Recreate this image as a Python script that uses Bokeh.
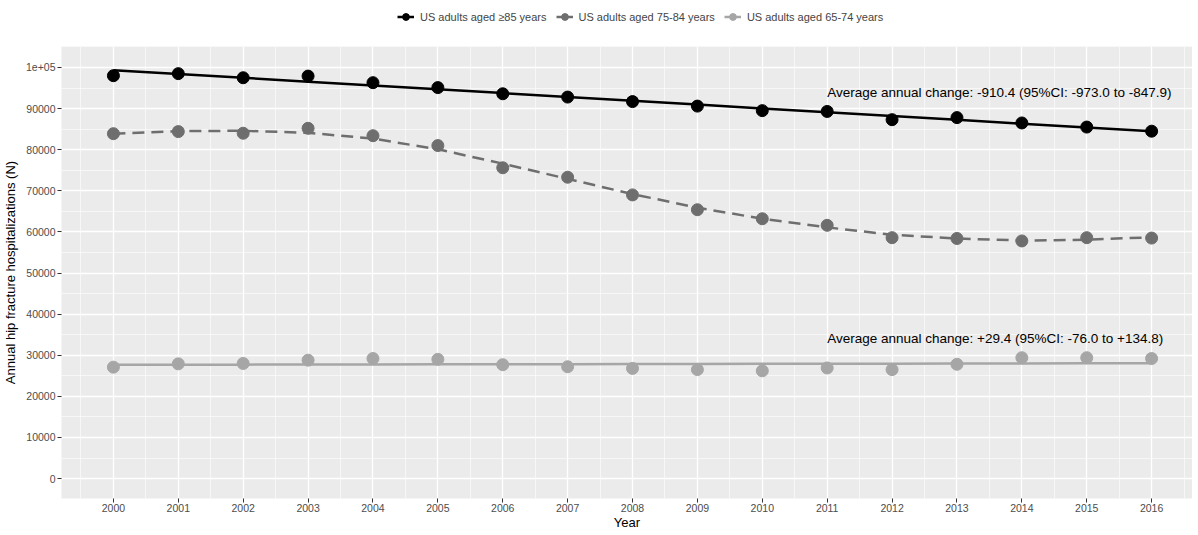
import numpy as np
from bokeh.plotting import figure
from bokeh.layouts import column
from bokeh.models import (ColumnDataSource, Legend, LegendItem, FixedTicker, Range1d)
from bokeh.core.properties import value
from bokeh.embed import file_html
from bokeh.resources import INLINE

# ---------------- data ----------------
years = list(range(2000, 2017))
labels = ["US adults aged \u226585 years", "US adults aged 75-84 years", "US adults aged 65-74 years"]

age_85_plus = [98000, 98500, 97500, 97900, 96300, 95100, 93600, 92800, 91700,
               90600, 89500, 89300, 87300, 87800, 86500, 85500, 84500]
age_75_84 = [83900, 84400, 84000, 85200, 83400, 81000, 75600, 73300, 69000,
             65400, 63200, 61600, 58600, 58400, 57800, 58600, 58500]
age_65_74 = [27100, 27900, 28000, 28800, 29200, 29000, 27700, 27200, 26800,
             26500, 26200, 26900, 26500, 27800, 29400, 29400, 29200]
# smoothed (loess) curve of the 75-84 group, read at each year
smooth_75_84 = [83900, 84500, 84600, 84100, 82700, 80100, 76600, 72900, 69200,
                65900, 63200, 61100, 59300, 58400, 57900, 58100, 58700]

annot_texts = ["Average annual change: -910.4 (95%CI: -973.0 to -847.9)",
               "Average annual change: +29.4 (95%CI: -76.0 to +134.8)"]
annot_x = [2011, 2011]
annot_y = [93800, 34000]

y_ticks = list(range(0, 100001, 10000))
y_tick_labels = {t: ("1e+05" if t == 100000 else str(t)) for t in y_ticks}

colors = ["#000000", "#6E6E6E", "#A6A6A6"]
FONT = "Liberation Sans"

# linear fits (as in the original, lm)
yr = np.array(years, dtype=float)
fit85 = np.polyval(np.polyfit(yr, age_85_plus, 1), yr)
fit65 = np.polyval(np.polyfit(yr, age_65_74, 1), yr)

# ---------------- legend strip ----------------
lg = figure(width=1190, height=36, output_backend="svg", toolbar_location=None,
            x_range=Range1d(0, 1), y_range=Range1d(0, 1),
            x_axis_location=None, y_axis_location=None, min_border=0)
lg.outline_line_color = None
lg.grid.visible = False
lg.background_fill_color = "white"
lg.border_fill_color = "white"
items = []
for lab, c in zip(labels, colors):
    # off-range placeholder data: only the legend keys are visible
    hidden = ColumnDataSource(dict(x=[-10, -9], y=[-10, -10]))
    r1 = lg.line("x", "y", source=hidden, line_width=2.5, color=c)
    r2 = lg.scatter("x", "y", source=hidden, size=12, color=c)
    items.append(LegendItem(label=lab, renderers=[r1, r2]))
legend = Legend(items=items, orientation="horizontal", location=(336, 11),
                label_text_font=FONT, label_text_font_size="11px",
                glyph_width=17, glyph_height=17, label_standoff=6, spacing=9,
                padding=0, margin=0, border_line_color=None,
                background_fill_alpha=0, label_height=17)
lg.add_layout(legend, "center")

# ---------------- main plot ----------------
p = figure(frame_width=1131, frame_height=452, output_backend="svg", toolbar_location=None,
           x_range=Range1d(1999.2, 2016.63), y_range=Range1d(-4850, 105100),
           min_border_left=59, min_border_right=0, min_border_top=10, min_border_bottom=28)
p.background_fill_color = "#EBEBEB"
p.border_fill_color = "white"
p.outline_line_color = None

# grid
p.xaxis.ticker = FixedTicker(ticks=years, minor_ticks=[y + 0.5 for y in range(1999, 2017)])
p.yaxis.ticker = FixedTicker(ticks=y_ticks, minor_ticks=list(range(-5000, 105001, 5000)))
for g in (p.xgrid, p.ygrid):
    g.grid_line_color = "white"
    g.grid_line_width = 1.3
    g.minor_grid_line_color = "white"
    g.minor_grid_line_width = 0.6

# axes
for ax in (p.xaxis, p.yaxis):
    ax.axis_line_color = None
    ax.major_tick_line_color = "#333333"
    ax.major_tick_out = 4
    ax.major_tick_in = 0
    ax.minor_tick_line_color = None
    ax.major_label_text_font = FONT
    ax.major_label_text_font_size = "10.5px"
    ax.major_label_text_color = "#4D4D4D"
    ax.axis_label_text_font = FONT
    ax.axis_label_text_font_size = "13px"
    ax.axis_label_text_font_style = "normal"
    ax.axis_label_text_color = "black"
p.yaxis.major_label_overrides = y_tick_labels
p.xaxis.axis_label = "Year"
p.yaxis.axis_label = "Annual hip fracture hospitalizations (N)"
p.xaxis.major_label_standoff = 1
p.yaxis.major_label_standoff = 2
p.xaxis.axis_label_standoff = 0
p.yaxis.axis_label_standoff = 5

src = ColumnDataSource(dict(year=years, a85=age_85_plus, a75=age_75_84, a65=age_65_74,
                            s75=smooth_75_84, f85=fit85, f65=fit65))

# points
p.scatter("year", "a85", source=src, size=12, color=colors[0])
p.scatter("year", "a75", source=src, size=12, color=colors[1])
p.scatter("year", "a65", source=src, size=12, color=colors[2])
# lines
p.line("year", "f85", source=src, line_width=2.5, color=colors[0])
p.line("year", "s75", source=src, line_width=2.5, color=colors[1], line_dash="12 7")
p.line("year", "f65", source=src, line_width=2.5, color=colors[2])

# annotations
p.text(x=annot_x, y=annot_y, text=annot_texts, text_font=value(FONT),
       text_font_size="13.5px", text_color="black", text_align="left",
       text_baseline="middle")

layout = column(lg, p, spacing=0)
open("out.html", "w").write(file_html(layout, INLINE))
